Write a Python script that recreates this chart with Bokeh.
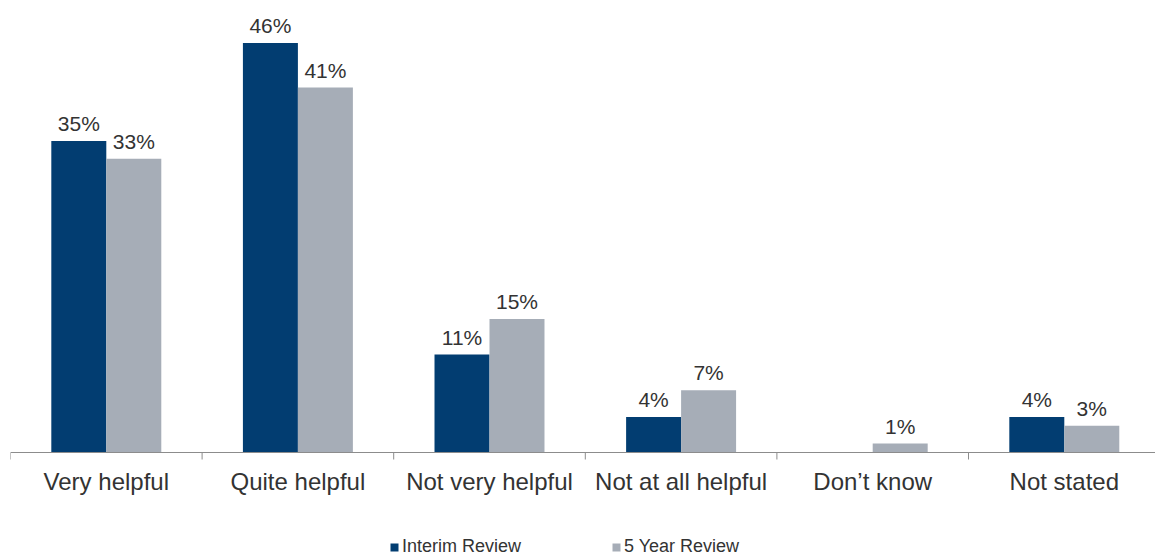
import math
from bokeh.plotting import figure
from bokeh.models import ColumnDataSource, Range1d, Legend, LegendItem, Span
from bokeh.core.properties import value
from bokeh.embed import file_html
from bokeh.resources import INLINE

categories = ["Very helpful", "Quite helpful", "Not very helpful", "Not at all helpful", "Don\u2019t know", "Not stated"]
interim = [35, 46, 11, 4, 0, 4]
five_year = [33, 41, 15, 7, 1, 3]
series_names = ["Interim Review", "5 Year Review"]
colors = ["#023D71", "#A6ADB7"]

FONT = "Liberation Sans"
TXT = "#333333"
AXC = "#8C8C8C"
bw = 0.287
PX_PER_PCT = 8.9

centers = [i + 0.5 for i in range(len(categories))]
bounds = list(range(len(categories) + 1))

p = figure(width=1155, height=557, output_backend="svg", toolbar_location=None,
           x_range=Range1d(0, 1145 / 191.6),
           y_range=Range1d(-105 / PX_PER_PCT, 452 / PX_PER_PCT),
           min_border_left=10, min_border_right=0, min_border_top=0, min_border_bottom=0)
p.xaxis.visible = False
p.yaxis.visible = False
p.grid.visible = False
p.outline_line_color = None
p.background_fill_color = "white"
p.border_fill_color = "white"

renderers = []
for k, (vals, name, col) in enumerate(zip([interim, five_year], series_names, colors)):
    off = (-0.5 if k == 0 else 0.5) * bw
    xs = [c + off for c in centers]
    labels = ["" if (k == 0 and v == 0) else f"{v}%" for v in vals]
    src = ColumnDataSource(dict(x=xs, top=vals, lab=labels))
    r = p.vbar(x="x", top="top", width=bw, bottom=0, source=src, fill_color=col, line_color=None)
    renderers.append(r)
    p.text(x="x", y="top", text="lab", source=src, text_align="center", text_baseline="bottom",
           y_offset=-6, text_font=value(FONT), text_font_size="21px", text_color=TXT)

# category axis: baseline, boundary ticks, labels
p.add_layout(Span(location=0, dimension="width", line_color=AXC, line_width=1))
tick_src = ColumnDataSource(dict(x=bounds, y=[0] * len(bounds)))
p.ray(x="x", y="y", length=7, length_units="screen", angle=-math.pi / 2, source=tick_src,
      line_color=AXC, line_width=1)
cat_src = ColumnDataSource(dict(x=centers, y=[0] * len(centers), t=categories))
p.text(x="x", y="y", text="t", source=cat_src, text_align="center", text_baseline="top",
       y_offset=15, text_font=value(FONT), text_font_size="24px", text_color=TXT)

legend = Legend(items=[LegendItem(label=n, renderers=[r]) for n, r in zip(series_names, renderers)],
                orientation="horizontal", location=(379, 0), spacing=90,
                label_text_font=FONT, label_text_font_size="18px", label_text_color=TXT,
                glyph_width=10, glyph_height=10, label_standoff=3,
                border_line_color=None, background_fill_alpha=0, padding=0, margin=0)
p.add_layout(legend, "center")

open("out.html", "w").write(file_html(p, INLINE))
